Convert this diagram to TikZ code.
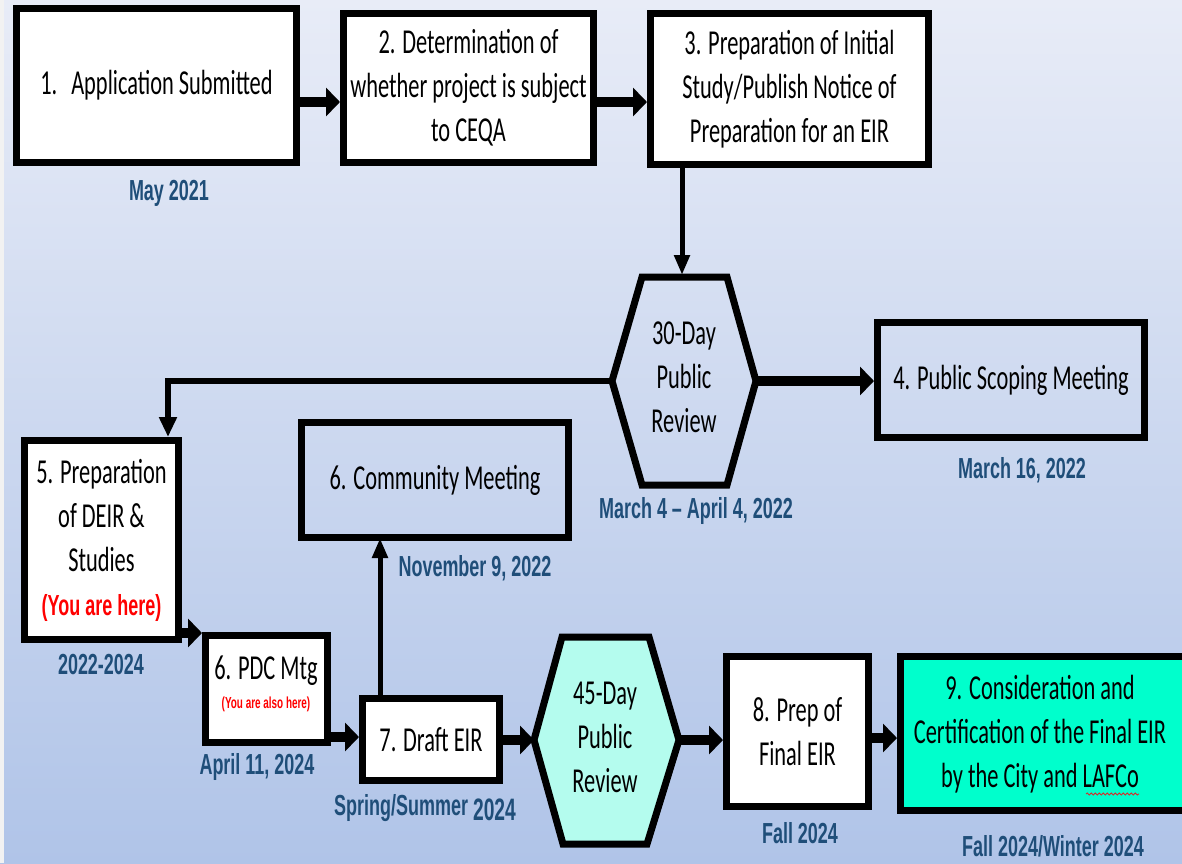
\documentclass[tikz,border=0pt]{standalone}
\usepackage{fontspec}
\setmainfont{Carlito}[FakeStretch=0.64]
\newfontfamily\datefont{Liberation Sans}[FakeStretch=0.62]
\usetikzlibrary{arrows.meta,decorations.pathmorphing}
\definecolor{datec}{RGB}{31,78,121}
\definecolor{bgtop}{RGB}{232,236,247}
\definecolor{bgmid}{RGB}{197,211,238}
\definecolor{bgbot}{RGB}{176,196,232}
\definecolor{hexfill}{RGB}{180,252,238}
\definecolor{ninefill}{RGB}{0,255,204}
\newcommand{\boxfont}{\fontsize{35}{44}\selectfont}
\newcommand{\redfont}{\datefont\bfseries\fontsize{29}{44}\selectfont\color{red}}
\tikzset{
  box/.style={draw=black, line width=7pt, fill=white, inner sep=0pt, align=center, font=\boxfont},
  openbox/.style={box, fill=none},
  boxtext/.style={inner sep=0pt, align=center, font=\boxfont},
  datelbl/.style={inner sep=0pt, text=datec, font=\datefont\bfseries\fontsize{29}{32}\selectfont},
  hexline/.style={draw=black, line width=7pt, line join=miter},
  harrow/.style={line width=10pt, -{Triangle[length=14pt,width=28pt]}},
  varrow/.style={line width=5pt, -{Triangle[length=20pt,width=15pt]}},
  larrow/.style={line width=6.5pt, line join=miter, -{Triangle[length=20pt,width=17pt]}},
}
\begin{document}
\begin{tikzpicture}[x=1pt,y=-1pt]
\useasboundingbox (0,0) rectangle (1182,863);
\clip (0,0) rectangle (1182,863);
\shade[top color=bgtop, middle color=bgmid, bottom color=bgbot] (0,0) rectangle (1182,863);
\fill[black!5] (0,0) rectangle (4,863);

% top row
\node[box, minimum width=280pt, minimum height=154pt] (box1) at (156.5,85.5) {1.\hspace{14pt}Application Submitted};
\node[box, minimum width=250pt, minimum height=149pt] (box2) at (468.5,88) {2. Determination of\\whether project is subject\\to CEQA};
\node[box, minimum width=278pt, minimum height=151pt] (box3) at (789.5,89) {3. Preparation of Initial\\Study/Publish Notice of\\Preparation for an EIR};
\node[datelbl] (may) at (169,193) {May 2021};

% 30-day hexagon
\coordinate (h1tl) at (642,277);
\coordinate (h1tr) at (727,277);
\coordinate (h1r) at (756,381);
\coordinate (h1br) at (727,485);
\coordinate (h1bl) at (642,485);
\coordinate (h1l) at (612,381);
\draw[hexline] (h1tl) -- (h1tr) -- (h1r) -- (h1br) -- (h1bl) -- (h1l) -- cycle;
\node[boxtext] (hex1) at (684,377) {30-Day\\Public\\Review};
\node[datelbl] (mar4) at (696,511) {March 4 – April 4, 2022};

\node[openbox, minimum width=267pt, minimum height=115pt] (box4) at (1011,380) {4. Public Scoping Meeting};
\node[datelbl] (mar16) at (1022,470) {March 16, 2022};

% middle row
\node[box, minimum width=154pt, minimum height=199pt] (box5) at (101.5,540) {5. Preparation\\of DEIR \&\\Studies\\{\redfont (You are here)}};
\node[datelbl] (y2224) at (101,665) {2022-2024};

\node[openbox, minimum width=267pt, minimum height=115pt] (box6) at (435,480) {6. Community Meeting};
\node[datelbl] (nov9) at (475,568) {November 9, 2022};

% bottom row
\node[box, minimum width=122pt, minimum height=107pt] (pdc) at (266.5,689) {};
\node[boxtext, anchor=base] (pdct) at (266,679) {6. PDC Mtg};
\node[inner sep=0pt, anchor=base, text=red, font=\datefont\bfseries\fontsize{16}{18}\selectfont] (pdcr) at (266,708) {(You are also here)};
\node[datelbl] (apr11) at (257,767) {April 11, 2024};

\node[box, minimum width=137pt, minimum height=82pt] (draft) at (431,739.5) {7. Draft EIR};
\node[datelbl] (spring) at (425,808) {Spring/Summer \raisebox{-5pt}{\fontsize{31}{32}\selectfont 2024}};

\coordinate (h2tl) at (562,637);
\coordinate (h2tr) at (649,637);
\coordinate (h2r) at (679,740);
\coordinate (h2br) at (647,844);
\coordinate (h2bl) at (563,844);
\coordinate (h2l) at (534,740);
\draw[hexline, fill=hexfill] (h2tl) -- (h2tr) -- (h2r) -- (h2br) -- (h2bl) -- (h2l) -- cycle;
\node[boxtext] (hex2) at (605,737) {45-Day\\Public\\Review};

\node[box, minimum width=142pt, minimum height=150pt] (box8) at (797.5,731.5) {8. Prep of\\Final EIR};
\node[datelbl] (fall) at (800,833) {Fall 2024};

\node[box, fill=ninefill, minimum width=289pt, minimum height=154pt] (box9) at (1045,733.5) {};
\node[boxtext] (ninet) at (1040,734) {9. Consideration and\\Certification of the Final EIR\\by the City and LAFCo};
\coordinate (sq1) at (1086,794);
\coordinate (sq2) at (1139,794);
\draw[red!70!gray, line width=0.8pt, decorate, decoration={snake, amplitude=1.1pt, segment length=4pt}] (sq1) -- (sq2);
\node[datelbl] (fallw) at (1053,846) {Fall 2024/Winter 2024};

% connectors
\coordinate (a1) at (0,102);
\draw[harrow] (a1 -| box1.east) -- (a1 -| box2.west);
\draw[harrow] (a1 -| box2.east) -- (a1 -| box3.west);
\coordinate (h1top) at (682,275);
\draw[varrow] (box3.south -| h1top) -- (h1top);
\draw[harrow] (h1r) -- (h1r -| box4.west);
\coordinate (turn) at (168,381);
\draw[larrow] (h1l) -- (turn) -- (turn |- box5.north);
\coordinate (a5) at ([yshift=10pt]box5.south east);
\draw[harrow] (a5) -- (a5 -| pdc.west);
\coordinate (a6) at (0,737);
\draw[harrow] (a6 -| pdc.east) -- (a6 -| draft.west);
\coordinate (up) at (380,0);
\draw[varrow, shorten >=-3pt] (draft.north -| up) -- (box6.south -| up);
\draw[harrow] (draft.east |- h2l) -- (h2l);
\draw[harrow] (h2r) -- (h2r -| box8.west);
\coordinate (a8) at (0,738);
\draw[harrow] (a8 -| box8.east) -- (a8 -| box9.west);
\end{tikzpicture}
\end{document}
